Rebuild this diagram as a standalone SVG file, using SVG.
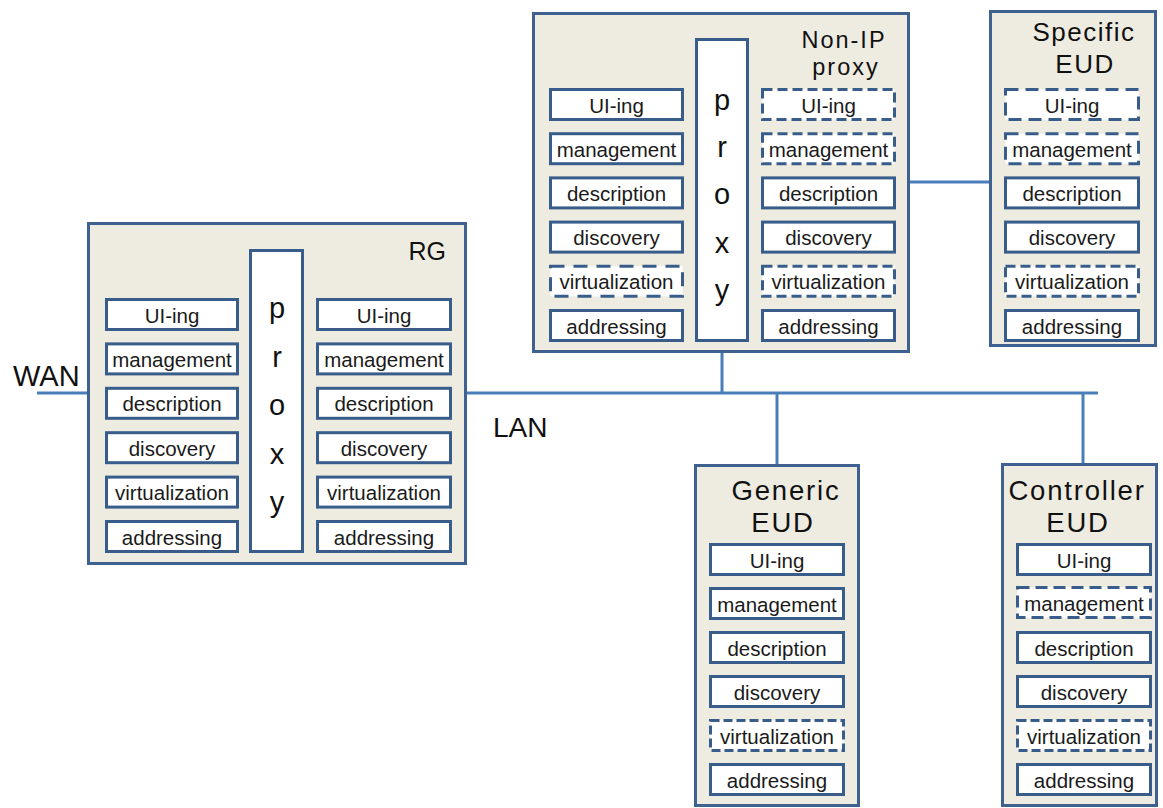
<svg xmlns="http://www.w3.org/2000/svg" width="1163" height="808" viewBox="0 0 1163 808">
<style>
  .outer { fill: #eeece1; stroke: #3f6190; stroke-width: 3; }
  .box { fill: #ffffff; stroke: #385d8a; stroke-width: 3; }
  .dash { fill: #ffffff; stroke: #385d8a; stroke-width: 3; stroke-dasharray: 10 5; }
  .lbl { font-family: "Liberation Sans", Arial, sans-serif; font-size: 20.5px; fill: #1a1a1a; text-anchor: middle; }
  .px { font-family: "Liberation Sans", Arial, sans-serif; font-size: 29px; fill: #111; text-anchor: middle; }
  .t1 { font-family: "Liberation Sans", Arial, sans-serif; font-size: 26px; fill: #111; text-anchor: middle; letter-spacing: 1.5px; }
  .t0 { font-family: "Liberation Sans", Arial, sans-serif; font-size: 23.5px; fill: #111; text-anchor: middle; letter-spacing: 2px; }
  .t2 { font-family: "Liberation Sans", Arial, sans-serif; font-size: 27.5px; fill: #111; text-anchor: middle; letter-spacing: 1.8px; }
  .big { font-family: "Liberation Sans", Arial, sans-serif; font-size: 29px; fill: #111; }
  .wire { stroke: #4a7ebb; stroke-width: 3; fill: none; }
</style>

<g id="connectors">
  <line class="wire" x1="37" y1="393" x2="87" y2="393"/>
  <line class="wire" x1="467" y1="393" x2="1098" y2="393"/>
  <line class="wire" x1="722" y1="353" x2="722" y2="393"/>
  <line class="wire" x1="777" y1="393" x2="777" y2="464"/>
  <line class="wire" x1="1083" y1="393" x2="1083" y2="463"/>
  <line class="wire" x1="910" y1="182" x2="989" y2="182"/>
</g>

<g id="labels">
  <text class="big" x="13" y="386">WAN</text>
  <text class="big" x="493" y="437" style="font-size:28px">LAN</text>
</g>

<g id="rg">
  <rect class="outer" x="88.5" y="223.5" width="377" height="340"/>
  <text x="446" y="260" style="font-family:'Liberation Sans',Arial,sans-serif;font-size:25px;fill:#111;text-anchor:end">RG</text>
  <rect class="box" x="250.5" y="250.5" width="52" height="301"/>
  <text class="px" x="277" y="318">p</text>
  <text class="px" x="277" y="367">r</text>
  <text class="px" x="277" y="415">o</text>
  <text class="px" x="277" y="464">x</text>
  <text class="px" x="277" y="512">y</text>
  <g>
    <rect class="box" x="106.5" y="299.5" width="131" height="30"/>
    <rect class="box" x="106.5" y="343.9" width="131" height="30"/>
    <rect class="box" x="106.5" y="388.3" width="131" height="30"/>
    <rect class="box" x="106.5" y="432.7" width="131" height="30"/>
    <rect class="box" x="106.5" y="477.1" width="131" height="30"/>
    <rect class="box" x="106.5" y="521.5" width="131" height="30"/>
    <text class="lbl" x="172" y="322.5">UI-ing</text>
    <text class="lbl" x="172" y="366.9">management</text>
    <text class="lbl" x="172" y="411.3">description</text>
    <text class="lbl" x="172" y="455.7">discovery</text>
    <text class="lbl" x="172" y="500.1">virtualization</text>
    <text class="lbl" x="172" y="544.5">addressing</text>
  </g>
  <g>
    <rect class="box" x="317.5" y="299.5" width="133" height="30"/>
    <rect class="box" x="317.5" y="343.9" width="133" height="30"/>
    <rect class="box" x="317.5" y="388.3" width="133" height="30"/>
    <rect class="box" x="317.5" y="432.7" width="133" height="30"/>
    <rect class="box" x="317.5" y="477.1" width="133" height="30"/>
    <rect class="box" x="317.5" y="521.5" width="133" height="30"/>
    <text class="lbl" x="384" y="322.5">UI-ing</text>
    <text class="lbl" x="384" y="366.9">management</text>
    <text class="lbl" x="384" y="411.3">description</text>
    <text class="lbl" x="384" y="455.7">discovery</text>
    <text class="lbl" x="384" y="500.1">virtualization</text>
    <text class="lbl" x="384" y="544.5">addressing</text>
  </g>
</g>

<g id="nonip-proxy">
  <rect class="outer" x="533.5" y="13.5" width="375" height="338"/>
  <text class="t0" x="844" y="48">Non-IP</text>
  <text class="t0" x="846" y="75">proxy</text>
  <rect class="box" x="696.5" y="39.5" width="51" height="301"/>
  <text class="px" x="722" y="110">p</text>
  <text class="px" x="722" y="157">r</text>
  <text class="px" x="722" y="204">o</text>
  <text class="px" x="722" y="253">x</text>
  <text class="px" x="722" y="300">y</text>
  <g>
    <rect class="box" x="550.5" y="89.5" width="132" height="30"/>
    <rect class="box" x="550.5" y="133.7" width="132" height="30"/>
    <rect class="box" x="550.5" y="177.9" width="132" height="30"/>
    <rect class="box" x="550.5" y="222.1" width="132" height="30"/>
    <rect class="dash" x="550.5" y="266.3" width="132" height="30" style="stroke-dasharray:14 9"/>
    <rect class="box" x="550.5" y="310.5" width="132" height="30"/>
    <text class="lbl" x="616.5" y="112.5">UI-ing</text>
    <text class="lbl" x="616.5" y="156.7">management</text>
    <text class="lbl" x="616.5" y="200.9">description</text>
    <text class="lbl" x="616.5" y="245.1">discovery</text>
    <text class="lbl" x="616.5" y="289.3">virtualization</text>
    <text class="lbl" x="616.5" y="333.5">addressing</text>
  </g>
  <g>
    <rect class="dash" x="762.5" y="89.5" width="132" height="30"/>
    <rect class="dash" x="762.5" y="133.7" width="132" height="30"/>
    <rect class="box" x="762.5" y="177.9" width="132" height="30"/>
    <rect class="box" x="762.5" y="222.1" width="132" height="30"/>
    <rect class="dash" x="762.5" y="266.3" width="132" height="30"/>
    <rect class="box" x="762.5" y="310.5" width="132" height="30"/>
    <text class="lbl" x="828.5" y="112.5">UI-ing</text>
    <text class="lbl" x="828.5" y="156.7">management</text>
    <text class="lbl" x="828.5" y="200.9">description</text>
    <text class="lbl" x="828.5" y="245.1">discovery</text>
    <text class="lbl" x="828.5" y="289.3">virtualization</text>
    <text class="lbl" x="828.5" y="333.5">addressing</text>
  </g>
</g>

<g id="specific-eud">
  <rect class="outer" x="990.5" y="11.5" width="165" height="334"/>
  <text class="t1" x="1084" y="41">Specific</text>
  <text class="t1" x="1085" y="73">EUD</text>
  <rect class="dash" x="1005.5" y="89.5" width="133" height="30" style="stroke-dasharray:13 7"/>
  <rect class="dash" x="1005.5" y="133.7" width="133" height="30" style="stroke-dasharray:13 7"/>
  <rect class="box" x="1005.5" y="177.9" width="133" height="30"/>
  <rect class="box" x="1005.5" y="222.1" width="133" height="30"/>
  <rect class="dash" x="1005.5" y="266.3" width="133" height="30"/>
  <rect class="box" x="1005.5" y="310.5" width="133" height="30"/>
  <text class="lbl" x="1072" y="112.5">UI-ing</text>
  <text class="lbl" x="1072" y="156.7">management</text>
  <text class="lbl" x="1072" y="200.9">description</text>
  <text class="lbl" x="1072" y="245.1">discovery</text>
  <text class="lbl" x="1072" y="289.3">virtualization</text>
  <text class="lbl" x="1072" y="333.5">addressing</text>
</g>

<g id="generic-eud">
  <rect class="outer" x="695.5" y="465.5" width="163" height="340"/>
  <text class="t2" x="786" y="500">Generic</text>
  <text class="t2" x="783" y="532">EUD</text>
  <rect class="box" x="710.5" y="544.5" width="133" height="30"/>
  <rect class="box" x="710.5" y="588.5" width="133" height="30"/>
  <rect class="box" x="710.5" y="632.5" width="133" height="30"/>
  <rect class="box" x="710.5" y="676.5" width="133" height="30"/>
  <rect class="dash" x="710.5" y="720.5" width="133" height="30" style="stroke-dasharray:9 4"/>
  <rect class="box" x="710.5" y="764.5" width="133" height="30"/>
  <text class="lbl" x="777" y="567.5">UI-ing</text>
  <text class="lbl" x="777" y="611.5">management</text>
  <text class="lbl" x="777" y="655.5">description</text>
  <text class="lbl" x="777" y="699.5">discovery</text>
  <text class="lbl" x="777" y="743.5">virtualization</text>
  <text class="lbl" x="777" y="787.5">addressing</text>
</g>

<g id="controller-eud">
  <rect class="outer" x="1002.5" y="464.5" width="154" height="341"/>
  <text class="t2" x="1077" y="500">Controller</text>
  <text class="t2" x="1078" y="532">EUD</text>
  <rect class="box" x="1017.5" y="544.5" width="133" height="30"/>
  <rect class="dash" x="1017.5" y="587.5" width="133" height="30" style="stroke-dasharray:12 6"/>
  <rect class="box" x="1017.5" y="632.5" width="133" height="30"/>
  <rect class="box" x="1017.5" y="676.5" width="133" height="30"/>
  <rect class="dash" x="1017.5" y="720.5" width="133" height="30" style="stroke-dasharray:9 4"/>
  <rect class="box" x="1017.5" y="764.5" width="133" height="30"/>
  <text class="lbl" x="1084" y="567.5">UI-ing</text>
  <text class="lbl" x="1084" y="610.5">management</text>
  <text class="lbl" x="1084" y="655.5">description</text>
  <text class="lbl" x="1084" y="699.5">discovery</text>
  <text class="lbl" x="1084" y="743.5">virtualization</text>
  <text class="lbl" x="1084" y="787.5">addressing</text>
</g>
</svg>
